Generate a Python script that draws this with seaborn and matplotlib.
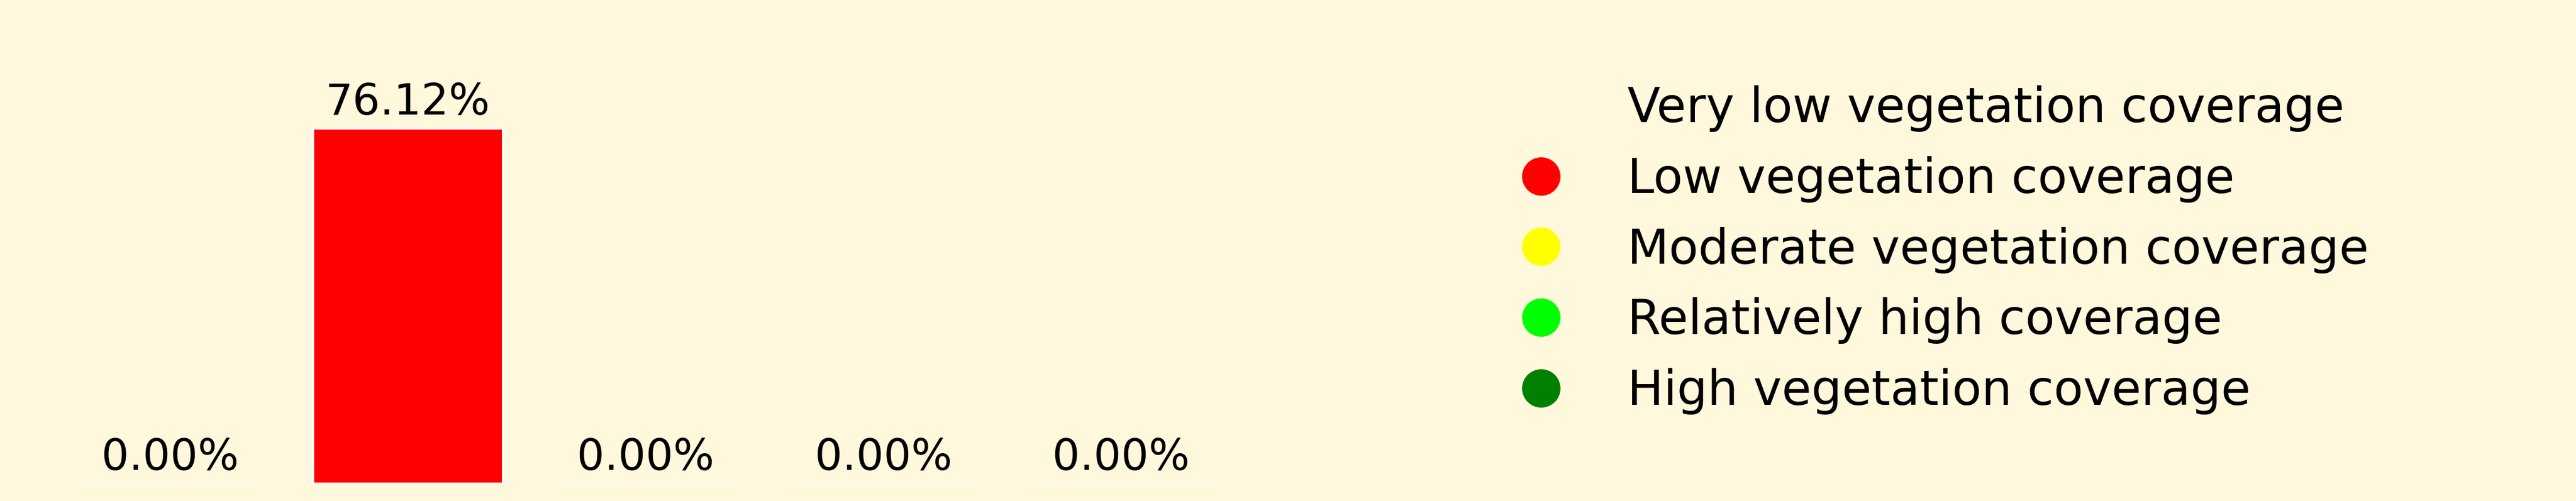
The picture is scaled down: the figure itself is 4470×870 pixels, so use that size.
import matplotlib
matplotlib.use("Agg")
import matplotlib.pyplot as plt
from matplotlib.lines import Line2D
import pandas as pd
import seaborn as sns

# Vegetation coverage classes and their share (%)
categories = [
    "Very low vegetation coverage",
    "Low vegetation coverage",
    "Moderate vegetation coverage",
    "Relatively high coverage",
    "High vegetation coverage",
]
percentages = [0.00, 76.12, 0.00, 0.00, 0.00]
colors = ["#FFF8DC", "#FF0000", "#FFFF00", "#00FF00", "#008000"]

bg = "#FFF8DC"

df = pd.DataFrame({"Class": categories, "Percent": percentages})

sns.set_theme(style="white")
plt.rcParams["font.family"] = ["DejaVu Sans"]
plt.rcParams["text.color"] = "black"

fig = plt.figure(figsize=(14.9, 2.9), dpi=300, facecolor=bg)
ax = fig.add_axes([0.0199, 0.0345, 0.4615, 0.7448])
ax.set_facecolor(bg)

sns.barplot(data=df, x="Class", y="Percent", hue="Class",
            palette=dict(zip(categories, colors)), width=0.8,
            legend=False, saturation=1, ax=ax)

for c in ax.containers:
    ax.bar_label(c, fmt="{:.2f}%", fontsize=18, padding=1.8, color="black")

ax.axis("off")

handles = [Line2D([0], [0], marker="o", linestyle="none", markersize=15,
                  markerfacecolor=col, markeredgecolor=col)
           for col in colors]
fig.legend(handles, categories, loc="upper left",
           bbox_to_anchor=(0.572, 0.868), borderaxespad=0,
           frameon=False, fontsize=20, labelcolor="black")

fig.savefig("out.png", dpi=300, facecolor=bg)
